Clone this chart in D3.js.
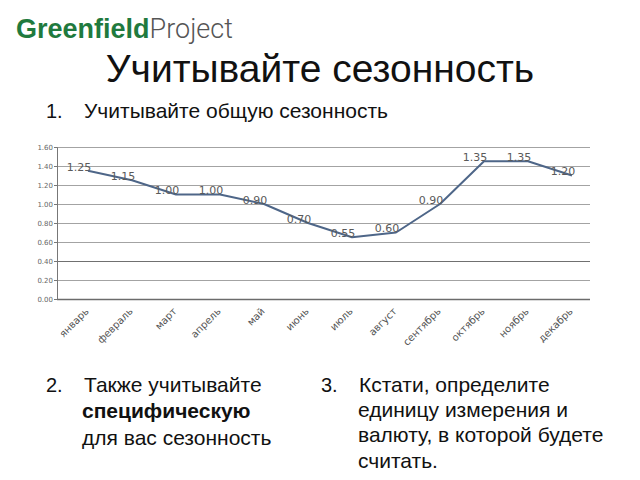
<!DOCTYPE html>
<html><head><meta charset="utf-8">
<script src="https://cdn.jsdelivr.net/npm/d3@7"></script>
<style>
html,body{margin:0;padding:0;background:#fff;}
svg{display:block;}
</style></head>
<body>
<svg id="chart" width="640" height="480"></svg>
<script>
const months = ["январь","февраль","март","апрель","май","июнь","июль","август","сентябрь","октябрь","ноябрь","декабрь"];
const lineValues = [1.35,1.25,1.10,1.10,1.00,0.80,0.65,0.70,1.00,1.45,1.45,1.30];
const dataLabels = ["1.25","1.15","1.00","1.00","0.90","0.70","0.55","0.60","0.90","1.35","1.35","1.20"];
const yTicks = [0,0.2,0.4,0.6,0.8,1.0,1.2,1.4,1.6];

const svg = d3.select("#chart");
const font = "'Liberation Sans', Arial, sans-serif";
const cfont = "'DejaVu Sans', Verdana, sans-serif";

// Logo
const logo = svg.append("text").attr("x",16).attr("y",38).attr("font-family",font).attr("font-size",27);
logo.append("tspan").attr("fill","#1f7a3e").attr("font-weight","bold").text("Greenfield");
logo.append("tspan").attr("fill","#555").attr("font-weight","normal").attr("font-family","Roboto, 'Liberation Sans', sans-serif").attr("font-weight",300).text("Project");

// Title
svg.append("text").attr("x",320).attr("y",82).attr("text-anchor","middle")
  .attr("font-family",font).attr("font-size",39).attr("fill","#111").text("Учитывайте сезонность");

// Subtitle
svg.append("text").attr("x",46).attr("y",118).attr("font-family",font).attr("font-size",20).attr("fill","#111").text("1.");
svg.append("text").attr("x",84).attr("y",118).attr("font-family",font).attr("font-size",21).attr("fill","#111").text("Учитывайте общую сезонность");

// Chart
const x = d3.scalePoint().domain(months).range([88,572]);
const y = d3.scaleLinear().domain([0,1.6]).range([299,147]);
const plotL = 57, plotR = 590;

const g = svg.append("g");
g.selectAll("line.grid").data(yTicks).join("line").attr("class","grid")
  .attr("x1",plotL).attr("x2",plotR).attr("y1",d=>Math.round(y(d))+0.5).attr("y2",d=>Math.round(y(d))+0.5)
  .attr("stroke",d=> d===0 ? "#6b6b6b" : (Math.abs(d-0.4)<1e-9 ? "#707070" : "#a3a3a3"))
  .attr("stroke-width",d=> d===0 ? 1.5 : 1);

const yAxis = d3.axisLeft(y).tickValues(yTicks).tickSize(3).tickFormat(d3.format(".2f"));
const ya = g.append("g").attr("transform",`translate(${plotL},0)`).call(yAxis);
ya.select(".domain").attr("stroke","#777");
ya.selectAll(".tick line").attr("stroke","#777");
ya.selectAll(".tick text").attr("font-family",cfont).attr("font-size",7).attr("fill","#666").attr("x",-4);

// X labels
const xAxis = d3.axisBottom(x).tickSize(0);
const xa = g.append("g").attr("transform",`translate(-4,${y(0)+8})`).call(xAxis);
xa.select(".domain").remove();
xa.selectAll(".tick text").attr("font-family",cfont).attr("font-size",10).attr("fill","#555")
  .attr("text-anchor","end").attr("dy","0.7em").attr("y",0).attr("transform","rotate(-45)");

// Line
const line = d3.line().x((d,i)=>x(months[i])).y(d=>y(d));
g.append("path").datum(lineValues).attr("d",line).attr("fill","none")
  .attr("stroke","#4e6688").attr("stroke-width",2).attr("stroke-linejoin","round");

// Data labels
g.selectAll("text.dl").data(dataLabels).join("text").attr("class","dl")
  .attr("x",(d,i)=>x(months[i])-9).attr("y",(d,i)=>y(lineValues[i])-4)
  .attr("dy","0.35em").attr("text-anchor","middle")
  .attr("font-family",cfont).attr("font-size",11).attr("fill","#5a5a5a").text(d=>d);

// Bottom texts
svg.append("text").attr("x",46).attr("y",392).attr("font-family",font).attr("font-size",20).attr("fill","#111").text("2.");
const t2 = svg.append("text").attr("font-family",font).attr("font-size",21).attr("fill","#111");
t2.append("tspan").attr("x",84).attr("y",392).text("Также учитывайте");
t2.append("tspan").attr("x",82).attr("y",418).attr("font-weight","bold").text("специфическую");
t2.append("tspan").attr("x",82).attr("y",445).text("для вас сезонность");

svg.append("text").attr("x",321).attr("y",392).attr("font-family",font).attr("font-size",20).attr("fill","#111").text("3.");
const t3 = svg.append("text").attr("font-family",font).attr("font-size",21).attr("fill","#111");
t3.append("tspan").attr("x",359).attr("y",392).text("Кстати, определите");
t3.append("tspan").attr("x",358).attr("y",417).text("единицу измерения и");
t3.append("tspan").attr("x",358).attr("y",442).text("валюту, в которой будете");
t3.append("tspan").attr("x",358).attr("y",468).text("считать.");
</script>
</body></html>
